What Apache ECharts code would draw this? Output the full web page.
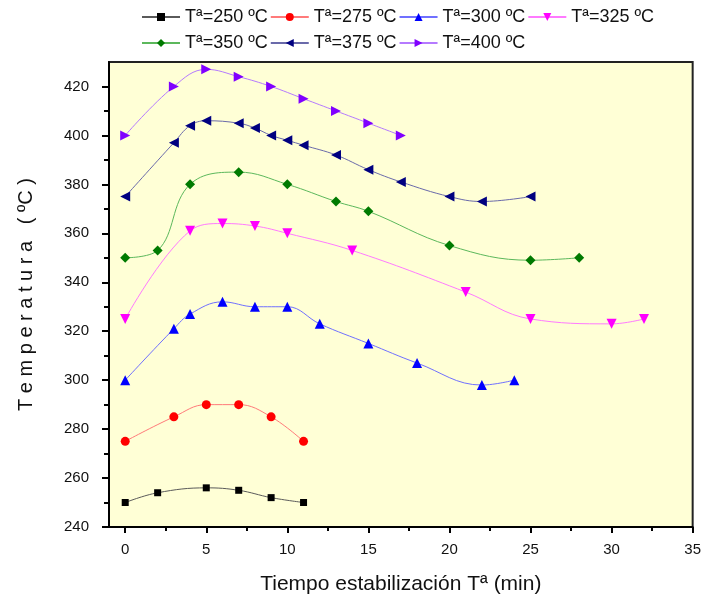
<!DOCTYPE html>
<html>
<head>
<meta charset="utf-8">
<script src="https://cdn.jsdelivr.net/npm/echarts@6/dist/echarts.min.js"></script>
<style>
  html, body { margin: 0; padding: 0; background: #fff; }
  #main { width: 704px; height: 600px; }
</style>
</head>
<body>
<div id="main"></div>
<script>
// datos
var names = ['Tª=250 ºC', 'Tª=275 ºC', 'Tª=300 ºC', 'Tª=325 ºC', 'Tª=350 ºC', 'Tª=375 ºC', 'Tª=400 ºC'];

var x250 = [0, 2, 5, 7, 9, 11];
var y250 = [250, 254, 256, 255, 252, 250];
var x275 = [0, 3, 5, 7, 9, 11];
var y275 = [275, 285, 290, 290, 285, 275];
var x300 = [0, 3, 4, 6, 8, 10, 12, 15, 18, 22, 24];
var y300 = [300, 321, 327, 332, 330, 330, 323, 315, 307, 298, 300];
var x325 = [0, 4, 6, 8, 10, 14, 21, 25, 30, 32];
var y325 = [325, 361, 364, 363, 360, 353, 336, 325, 323, 325];
var x350 = [0, 2, 4, 7, 10, 13, 15, 20, 25, 28];
var y350 = [350, 353, 380, 385, 380, 373, 369, 355, 349, 350];
var x375 = [0, 3, 4, 5, 7, 8, 9, 10, 11, 13, 15, 17, 20, 22, 25];
var y375 = [375, 397, 404, 406, 405, 403, 400, 398, 396, 392, 386, 381, 375, 373, 375];
var x400 = [0, 3, 5, 7, 9, 11, 13, 15, 17];
var y400 = [400, 420, 427, 424, 420, 415, 410, 405, 400];

// ticks
var xMajor = [0, 5, 10, 15, 20, 25, 30, 35];
var xMinor = [2.5, 7.5, 12.5, 17.5, 22.5, 27.5, 32.5];
var yMajor = [240, 260, 280, 300, 320, 340, 360, 380, 400, 420];
var yMinor = [250, 270, 290, 310, 330, 350, 370, 390, 410];

var font = 'Liberation Sans, Arial, sans-serif';

function pairs(xs, ys) {
    var out = [];
    for (var i = 0; i < xs.length; i++) {
        out.push([xs[i], ys[i]]);
    }
    return out;
}

function makeSeries(name, xs, ys, symbol, size, rotate, markColor, lineColor) {
    return {
        name: name,
        type: 'line',
        smooth: 0.4,
        data: pairs(xs, ys),
        symbol: symbol,
        symbolSize: size,
        symbolRotate: rotate,
        showAllSymbol: true,
        itemStyle: { color: markColor, borderWidth: 0 },
        lineStyle: { color: lineColor, width: 1 },
        emphasis: { disabled: true },
        animation: false
    };
}

var myChart = echarts.init(document.getElementById("main"));

var legendText = { fontFamily: font, fontSize: 18, color: '#111' };

var option = {
    backgroundColor: '#ffffff',
    animation: false,
    legend: [
        {
            data: names.slice(0, 4),
            left: 141, top: 8, padding: 0,
            itemWidth: 38, itemHeight: 10, itemGap: 2,
            textStyle: legendText
        },
        {
            data: names.slice(4),
            left: 141, top: 34, padding: 0,
            itemWidth: 38, itemHeight: 10, itemGap: 2,
            textStyle: legendText
        }
    ],
    grid: {
        left: 109, right: 6, top: 62, bottom: 69,
        show: true,
        backgroundColor: '#FFFFD6',
        borderColor: '#222',
        borderWidth: 2
    },
    xAxis: [
        {
            type: 'value',
            min: -1, max: 35,
            name: 'Tiempo estabilización Tª (min)',
            nameLocation: 'middle',
            nameGap: 47,
            nameTextStyle: { fontFamily: font, fontSize: 21, color: '#111' },
            axisLine: { onZero: false, lineStyle: { color: '#000', width: 2 } },
            axisTick: { customValues: xMajor, length: 6, lineStyle: { color: '#000', width: 2 } },
            axisLabel: { customValues: xMajor, margin: 15, fontFamily: font, fontSize: 15, color: '#111' },
            splitLine: { show: false }
        },
        {
            type: 'value',
            min: -1, max: 35,
            position: 'bottom',
            axisLine: { show: false, onZero: false },
            axisTick: { customValues: xMinor, length: 4, lineStyle: { color: '#000', width: 2 } },
            axisLabel: { show: false },
            splitLine: { show: false }
        }
    ],
    yAxis: [
        {
            type: 'value',
            min: 240, max: 430,
            name: 'T e m p e r a t u r a   ( ºC )',
            nameLocation: 'middle',
            nameGap: 73,
            nameTextStyle: { fontFamily: font, fontSize: 20, color: '#111' },
            axisLine: { onZero: false, lineStyle: { color: '#000', width: 2 } },
            axisTick: { customValues: yMajor, length: 7, lineStyle: { color: '#000', width: 2 } },
            axisLabel: { customValues: yMajor, margin: 20, fontFamily: font, fontSize: 15, color: '#111' },
            splitLine: { show: false }
        },
        {
            type: 'value',
            min: 240, max: 430,
            position: 'left',
            axisLine: { show: false, onZero: false },
            axisTick: { customValues: yMinor, length: 5, lineStyle: { color: '#000', width: 2 } },
            axisLabel: { show: false },
            splitLine: { show: false }
        }
    ],
    series: [
        makeSeries(names[0], x250, y250, 'rect', 7, 0, '#000000', '#5a5a5a'),
        makeSeries(names[1], x275, y275, 'circle', 9, 0, '#ff0000', '#ff7a7a'),
        makeSeries(names[2], x300, y300, 'triangle', 10, 0, '#0000ff', '#7070ff'),
        makeSeries(names[3], x325, y325, 'triangle', 10, 180, '#ff00ff', '#ff7aff'),
        makeSeries(names[4], x350, y350, 'diamond', 10, 0, '#007a00', '#5cb85c'),
        makeSeries(names[5], x375, y375, 'triangle', 10, 90, '#000080', '#6a6aaa'),
        makeSeries(names[6], x400, y400, 'triangle', 10, -90, '#8000ff', '#b57aff')
    ]
};

myChart.setOption(option);
</script>
</body>
</html>
